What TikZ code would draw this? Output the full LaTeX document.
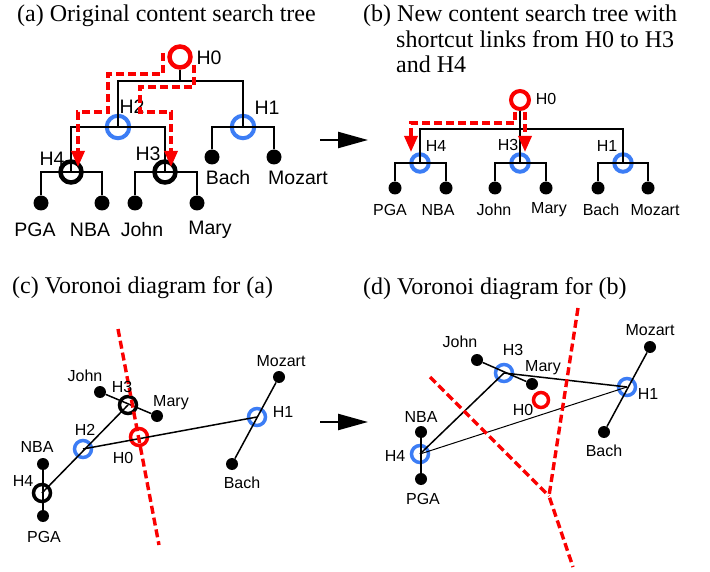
\documentclass[tikz,border=0pt]{standalone}
\usepackage{fontspec}
\setmainfont{Liberation Serif}
\newfontfamily\arialf{Liberation Sans}
\usetikzlibrary{arrows.meta}
\definecolor{hubblue}{RGB}{60,125,245}
\definecolor{hubred}{RGB}{250,0,0}
\begin{document}
\begin{tikzpicture}[x=1pt,y=-1pt,
  title/.style={inner sep=0pt, anchor=base west, font=\fontsize{24}{26}\selectfont},
  lblA/.style={inner sep=0pt, font=\arialf\fontsize{19.5}{20}\selectfont},
  lbl/.style={inner sep=0pt, font=\arialf\fontsize{16}{17}\selectfont},
  leafA/.style={circle, fill=black, inner sep=0pt, minimum size=15pt},
  leafB/.style={circle, fill=black, inner sep=0pt, minimum size=13pt},
  leafC/.style={circle, fill=black, inner sep=0pt, minimum size=12pt},
  ringA/.style={circle, draw, inner sep=0pt, minimum size=21pt, line width=4.5pt},
  ringB/.style={circle, draw, inner sep=0pt, minimum size=17.5pt, line width=4pt},
  ringC/.style={circle, draw, inner sep=0pt, minimum size=17pt, line width=3.5pt},
  treeline/.style={line width=2.3pt},
  link/.style={line width=1.5pt},
  shortcut/.style={draw=hubred, line width=3.4pt, dash pattern=on 8pt off 4pt},
  route/.style={shortcut, -{Triangle[length=16pt,width=13pt]}},
  bigarrow/.style={line width=2.3pt, -{Triangle[length=30pt,width=16pt]}}
]
\useasboundingbox (0,0) rectangle (710,572);

% ---------------- titles ----------------
\node[title] (ta) at (17,21.5) {(a) Original content search tree};
\node[title] (tb1) at (363,22) {(b) New content search tree with};
\node[title] (tb2) at (396,47.5) {shortcut links from H0 to H3};
\node[title] (tb3) at (396,73) {and H4};
\node[title] (tc) at (12,294) {(c) Voronoi diagram for (a)};
\node[title] (td) at (363,294.5) {(d) Voronoi diagram for (b)};

% ---------------- panel (a) ----------------
\node[ringA, draw=hubred] (H0a) at (180,57) {};
\node[ringA, draw=hubblue, line width=4pt, minimum size=22.5pt] (H2a) at (118,127) {};
\node[ringA, draw=hubblue, line width=4pt, minimum size=22.5pt] (H1a) at (243,127) {};
\node[ringA, draw=black] (H4a) at (71,172) {};
\node[ringA, draw=black] (H3a) at (165,172) {};
\node[leafA] (PGAa) at (41,203) {};
\node[leafA] (NBAa) at (102,203) {};
\node[leafA] (Johna) at (135,203) {};
\node[leafA] (Marya) at (197,203) {};
\node[leafA] (Bacha) at (212,157) {};
\node[leafA] (Mozarta) at (274,157) {};
\coordinate (Ja) at (180,81);

\draw[treeline] (H0a) -- (Ja);
\draw[treeline] (H2a.center) |- (Ja) -| (H1a.center);
\draw[treeline] (H4a.center) |- (H2a.center) -| (H3a.center);
\draw[treeline] (PGAa) |- (H4a.center) -| (NBAa);
\draw[treeline] (Johna) |- (H3a.center) -| (Marya);
\draw[treeline] (Bacha) |- (H1a.center) -| (Mozarta);

\node[lblA] (lH0a) at (209,58) {H0};
\node[lblA] (lH2a) at (132,107) {H2};
\node[lblA] (lH1a) at (267,108) {H1};
\node[lblA] (lH4a) at (52,159) {H4};
\node[lblA] (lH3a) at (148,154) {H3};
\node[lblA] (lBacha) at (228,178) {Bach};
\node[lblA] (lMozarta) at (298,178) {Mozart};
\node[lblA] (lPGAa) at (35,230) {PGA};
\node[lblA] (lNBAa) at (90,230) {NBA};
\node[lblA] (lJohna) at (142,230) {John};
\node[lblA] (lMarya) at (210,230) {Mary};

\coordinate (s1a) at (163,53);
\coordinate (t1a) at (78,167);
\coordinate (s2a) at (194,65);
\coordinate (t2a) at (171,167);
\draw[route] (s1a) -- (163,74) -- (108,74) -- (108,112) -- (78,112) -- (t1a);
\draw[route] (s2a) -- (194,87) -- (140,87) -- (140,112) -- (171,112) -- (t2a);

% ---------------- arrows between panels ----------------
\coordinate (ar1s) at (320,140);
\coordinate (ar1e) at (368,140);
\draw[bigarrow] (ar1s) -- (ar1e);
\coordinate (ar2s) at (320,422);
\coordinate (ar2e) at (368,422);
\draw[bigarrow] (ar2s) -- (ar2e);

% ---------------- panel (b) ----------------
\node[ringB, draw=hubred, minimum size=18pt] (H0b) at (520,100) {};
\node[ringB, draw=hubblue] (H4b) at (420,163) {};
\node[ringB, draw=hubblue] (H3b) at (520,163) {};
\node[ringB, draw=hubblue] (H1b) at (623,163) {};
\node[leafB] (PGAb) at (395,188) {};
\node[leafB] (NBAb) at (446,188) {};
\node[leafB] (Johnb) at (495,188) {};
\node[leafB] (Maryb) at (546,188) {};
\node[leafB] (Bachb) at (598,188) {};
\node[leafB] (Mozartb) at (648,188) {};
\coordinate (Jb) at (520,129);

\draw[treeline] (H0b) -- (H3b.center);
\draw[treeline] (H4b.center) |- (Jb) -| (H1b.center);
\draw[treeline] (PGAb) |- (H4b.center) -| (NBAb);
\draw[treeline] (Johnb) |- (H3b.center) -| (Maryb);
\draw[treeline] (Bachb) |- (H1b.center) -| (Mozartb);

\node[lbl] (lH0b) at (546,99) {H0};
\node[lbl] (lH4b) at (436,146) {H4};
\node[lbl] (lH3b) at (508,145) {H3};
\node[lbl] (lH1b) at (607,146) {H1};
\node[lbl] (lPGAb) at (390,210) {PGA};
\node[lbl] (lNBAb) at (438,210) {NBA};
\node[lbl] (lJohnb) at (494,210) {John};
\node[lbl] (lMaryb) at (549,210) {Mary};
\node[lbl] (lBachb) at (601,210) {Bach};
\node[lbl] (lMozartb) at (655,210) {Mozart};

\coordinate (s1b) at (515,112);
\coordinate (t1b) at (411,152);
\coordinate (s2b) at (525,112);
\coordinate (t2b) at (525,152);
\draw[route] (s1b) -- (515,123) -- (411,123) -- (t1b);
\draw[route] (s2b) -- (t2b);

% ---------------- panel (c) ----------------
\node[ringC, draw=hubred] (H0c) at (139,437) {};
\node[ringC, draw=hubblue] (H2c) at (83,449) {};
\node[ringC, draw=hubblue] (H1c) at (257,417) {};
\node[ringC, draw=black] (H3c) at (128,405) {};
\node[ringC, draw=black] (H4c) at (42,493) {};
\node[leafC] (Johnc) at (100,392) {};
\node[leafC] (Maryc) at (157,416) {};
\node[leafC] (NBAc) at (43,464) {};
\node[leafC] (PGAc) at (43,516) {};
\node[leafC] (Mozartc) at (279,377) {};
\node[leafC] (Bachc) at (232,464) {};

\draw[link] (H2c.center) -- (H1c.center);
\draw[link] (H4c.center) -- (H3c.center);
\draw[link] (Johnc) -- (Maryc);
\draw[link] (NBAc) -- (PGAc);
\draw[link] (Mozartc) -- (Bachc);

\coordinate (v1c) at (118,329);
\coordinate (v2c) at (159,545);
\draw[shortcut] (v1c) -- (v2c);

\node[lbl] (lJohnc) at (85,376) {John};
\node[lbl] (lH3c) at (122,387) {H3};
\node[lbl] (lMaryc) at (171,403) {Mary};
\node[lbl] (lH2c) at (85,430) {H2};
\node[lbl] (lNBAc) at (37,447) {NBA};
\node[lbl] (lH4c) at (23,481) {H4};
\node[lbl] (lPGAc) at (44,537) {PGA};
\node[lbl] (lH0c) at (123,458) {H0};
\node[lbl] (lH1c) at (283,412) {H1};
\node[lbl] (lMozartc) at (281,361) {Mozart};
\node[lbl] (lBachc) at (242,483) {Bach};

% ---------------- panel (d) ----------------
\node[ringC, draw=hubblue] (H3d) at (504,373) {};
\node[ringC, draw=hubblue] (H1d) at (627,387) {};
\node[ringC, draw=hubblue] (H4d) at (420,454) {};
\node[ringC, draw=hubred, minimum size=15pt] (H0d) at (541,400) {};
\node[leafC] (Johnd) at (477,360) {};
\node[leafC] (Maryd) at (532,384) {};
\node[leafC] (Mozartd) at (650,347) {};
\node[leafC] (Bachd) at (604,432) {};
\node[leafC] (NBAd) at (421,432) {};
\node[leafC] (PGAd) at (421,479) {};

\draw[link] (Johnd) -- (Maryd);
\draw[link] (H3d.center) -- (H1d.center);
\draw[link] (H4d.center) -- (H3d.center);
\draw[line width=1pt] (H4d.center) -- (H1d.center);
\draw[link] (Mozartd) -- (Bachd);
\draw[link] (NBAd) -- (PGAd);

\coordinate (v1d) at (430,377);
\coordinate (vmd) at (549,496);
\coordinate (v2d) at (578,308);
\coordinate (v3d) at (573,567);
\draw[shortcut] (v1d) -- (vmd);
\draw[shortcut] (v2d) -- (vmd) -- (v3d);

\node[lbl] (lJohnd) at (460,342) {John};
\node[lbl] (lH3d) at (513,350) {H3};
\node[lbl] (lMaryd) at (543,368) {Mary};
\node[lbl] (lH0d) at (523,410) {H0};
\node[lbl] (lMozartd) at (650,330) {Mozart};
\node[lbl] (lH1d) at (648,394) {H1};
\node[lbl] (lNBAd) at (421,417) {NBA};
\node[lbl] (lH4d) at (395,456) {H4};
\node[lbl] (lPGAd) at (423,499) {PGA};
\node[lbl] (lBachd) at (604,451) {Bach};
\end{tikzpicture}
\end{document}
